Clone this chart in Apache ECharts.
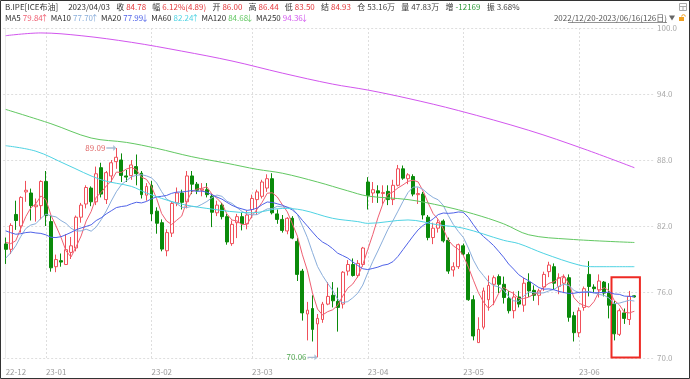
<!DOCTYPE html>
<html><head><meta charset="utf-8">
<script src="https://cdn.jsdelivr.net/npm/echarts@6/dist/echarts.min.js"></script>
<style>html,body{margin:0;padding:0;background:#fff}#c{width:690px;height:379px}</style>
</head><body><div id="c"></div><script>
// ---------- data ----------
const dates = [
'2022/12/20','2022/12/21','2022/12/22','2022/12/23','2022/12/27','2022/12/28','2022/12/29','2022/12/30',
'2023/01/03','2023/01/04','2023/01/05','2023/01/06','2023/01/09','2023/01/10','2023/01/11','2023/01/12','2023/01/13','2023/01/16','2023/01/17','2023/01/18','2023/01/19','2023/01/20','2023/01/23','2023/01/24','2023/01/25','2023/01/26','2023/01/27','2023/01/30','2023/01/31',
'2023/02/01','2023/02/02','2023/02/03','2023/02/06','2023/02/07','2023/02/08','2023/02/09','2023/02/10','2023/02/13','2023/02/14','2023/02/15','2023/02/16','2023/02/17','2023/02/20','2023/02/21','2023/02/22','2023/02/23','2023/02/24','2023/02/27','2023/02/28',
'2023/03/01','2023/03/02','2023/03/03','2023/03/06','2023/03/07','2023/03/08','2023/03/09','2023/03/10','2023/03/13','2023/03/14','2023/03/15','2023/03/16','2023/03/17','2023/03/20','2023/03/21','2023/03/22','2023/03/23','2023/03/24','2023/03/27','2023/03/28','2023/03/29','2023/03/30','2023/03/31',
'2023/04/03','2023/04/04','2023/04/05','2023/04/06','2023/04/10','2023/04/11','2023/04/12','2023/04/13','2023/04/14','2023/04/17','2023/04/18','2023/04/19','2023/04/20','2023/04/21','2023/04/24','2023/04/25','2023/04/26','2023/04/27','2023/04/28',
'2023/05/01','2023/05/02','2023/05/03','2023/05/04','2023/05/05','2023/05/08','2023/05/09','2023/05/10','2023/05/11','2023/05/12','2023/05/15','2023/05/16','2023/05/17','2023/05/18','2023/05/19','2023/05/22','2023/05/23','2023/05/24','2023/05/25','2023/05/26','2023/05/29','2023/05/30','2023/05/31',
'2023/06/01','2023/06/02','2023/06/05','2023/06/06','2023/06/07','2023/06/08','2023/06/09','2023/06/12','2023/06/13','2023/06/14','2023/06/15','2023/06/16'];

const openV = [
80.37,79.88,83.05,82.0,85.1,85.0,83.75,83.85,
86.05,82.4,78.3,78.85,78.5,79.6,80.0,82.8,84.0,85.45,84.2,87.3,84.4,86.55,87.85,88.0,86.55,86.58,87.4,86.8,84.8,
85.7,83.35,82.3,79.75,81.35,84.1,85.0,84.2,86.55,85.8,85.25,85.3,84.7,83.2,83.9,82.85,80.4,82.3,82.85,82.2,
83.5,84.4,84.7,85.45,86.3,83.1,82.6,81.55,82.7,80.6,77.9,74.0,74.5,73.1,73.5,74.9,75.7,75.15,74.9,77.9,78.5,77.5,78.5,
86.0,85.0,85.2,84.95,85.15,84.4,85.7,87.2,86.3,86.5,84.85,84.9,82.8,80.95,81.8,82.45,80.7,78.0,78.3,
80.2,79.4,75.3,71.4,72.8,75.3,76.7,77.4,76.7,75.4,74.3,75.55,74.8,76.9,76.15,75.7,76.45,77.85,78.3,76.5,76.8,77.3,73.85,
72.3,74.6,77.6,76.45,76.2,76.9,75.9,74.9,72.15,74.1,73.5,75.65];

const closeV = [
79.88,82.05,82.5,84.6,85.25,83.85,83.9,86.05,
82.95,78.2,78.95,78.72,79.85,80.2,82.8,83.9,85.5,84.2,86.75,84.9,86.85,87.75,88.25,86.6,86.45,87.55,86.75,84.85,85.6,
83.1,82.25,79.9,81.4,84.05,85.0,84.15,86.55,85.8,85.25,85.35,84.85,83.25,83.9,82.85,80.55,82.15,82.85,82.2,83.0,
84.5,85.1,86.0,86.3,83.2,82.6,81.6,82.7,80.9,77.6,74.1,74.35,72.6,73.6,74.9,75.6,75.2,74.6,77.8,78.5,77.5,78.6,80.0,
84.78,85.3,85.0,85.05,84.4,85.7,87.2,86.35,86.65,84.9,84.95,83.0,80.95,81.8,82.3,80.65,77.9,78.3,80.3,
79.45,75.3,72.0,72.6,76.1,76.6,77.3,76.7,75.5,74.3,75.55,74.9,76.8,76.1,75.7,76.1,77.6,78.45,76.8,77.3,77.3,73.7,72.3,
74.3,76.3,76.5,76.3,77.0,75.9,74.8,72.2,74.3,73.6,75.6,75.55];

const lowV = [
78.55,79.45,81.65,81.4,84.2,82.5,82.4,82.6,
82.0,77.85,77.8,78.3,78.45,79.0,79.7,82.3,83.6,83.8,83.9,84.6,84.0,86.0,87.2,86.0,86.0,86.2,85.7,84.5,84.3,
82.45,81.3,79.7,79.25,81.0,83.8,83.5,83.6,84.9,84.9,84.7,84.6,81.9,82.9,82.6,80.3,80.2,80.9,81.6,81.7,
82.7,83.0,84.5,85.1,83.05,82.2,81.4,81.25,80.8,77.0,73.4,71.6,71.5,70.06,73.2,74.8,74.6,72.4,74.5,77.5,77.4,77.3,78.3,
83.5,84.1,84.1,84.0,83.9,83.9,85.6,86.2,85.8,84.7,84.0,82.6,80.7,80.35,81.4,80.5,77.65,77.4,78.1,
79.3,75.2,71.6,71.4,72.6,74.3,74.8,75.9,74.95,74.05,73.6,74.6,74.2,75.55,75.2,74.8,76.1,77.35,76.2,75.8,75.9,73.3,71.5,
71.9,74.3,75.6,75.9,75.5,75.6,73.6,71.6,72.0,73.1,73.0,75.5];

const highV = [
80.95,82.25,84.3,84.7,86.1,85.4,84.5,86.15,
87.0,82.95,79.4,79.5,81.25,81.0,82.95,84.1,85.7,85.6,87.4,87.75,87.0,88.0,89.09,88.6,87.1,88.0,88.5,87.0,85.9,
86.1,83.7,82.6,81.7,84.25,85.5,85.3,87.0,87.0,86.0,85.9,85.9,84.9,84.3,84.1,83.1,82.5,83.1,83.2,83.4,
84.85,85.3,86.2,86.7,86.8,83.5,83.0,82.8,82.9,80.9,78.1,75.1,75.7,74.0,75.1,76.9,76.9,76.4,77.9,78.9,79.05,78.9,80.1,
86.44,86.0,85.7,85.7,85.7,86.2,87.55,87.5,86.8,86.7,85.5,85.1,83.0,82.3,82.6,82.6,80.95,78.7,80.4,
80.4,79.6,75.7,73.7,76.4,77.5,77.5,77.6,77.4,76.1,76.05,76.1,77.3,77.7,76.6,76.3,77.85,78.75,78.6,77.7,77.6,77.6,74.2,
74.6,76.5,78.8,76.7,77.6,77.0,76.8,75.2,74.5,74.5,76.1,75.7];

// closes of the 19 sessions before the window (estimated), needed for MA5/10/20 at the left edge
const priorCloses = [85.41,85.34,83.63,83.19,83.03,85.43,86.88,85.57,82.68,79.35,77.17,76.15,76.10,77.99,80.68,82.70,81.21,79.04,79.80];

// long moving averages: [session index, value]
const ma60Pts  = [[0,89.3],[6,88.8],[12,87.6],[19,86.2],[25,85.6],[28,85.0],[34,84.1],[40,83.6],[49,83.2],[55,83.6],[59,83.45],[65,82.7],[70,82.4],[72,82.24],[80,82.55],[86,82.1],[91,81.8],[99,80.7],[102,80.4],[107,79.5],[114,78.45],[117,78.3],[125,78.3]];
const ma120Pts = [[0,92.6],[9,91.3],[17,90.0],[24,89.6],[30,89.06],[37,88.3],[44,87.7],[50,87.15],[55,86.8],[62,86.0],[68,85.2],[72,84.72],[80,84.4],[87,83.8],[93,83.1],[99,82.2],[104,81.2],[112,80.8],[125,80.5]];
const ma250Pts = [[0,99.3],[7,99.55],[15,99.3],[25,98.7],[35,97.9],[45,97.0],[55,95.9],[65,94.9],[72,94.36],[80,93.6],[90,92.5],[104,90.7],[115,89.0],[125,87.3]];

const yTicks = [70, 76, 82, 88, 94, 100];

const quote = {name:'B.IPE[ICE布油]', date:'2023/04/03', close:'84.78', chg:'6.12%(4.89)', open:'86.00', high:'86.44', low:'83.50', settle:'84.93', oi:'53.16万', vol:'47.83万', oiChg:'-12169', amp:'3.68%'};
const maNames = ['MA5','MA10','MA20','MA60','MA120','MA250'];
const maHeader = ['79.84↑','77.70↑','77.99↓','82.24↑','84.68↓','94.36↓'];

// ---------- styling ----------
const F = "'Noto Sans CJK SC','Noto Sans',sans-serif";
const maColors = ['#ef5f72','#8aaedb','#4f62e8','#4fd3e3','#62c862','#d256ee'];
const UP = '#f0505a', DOWN = '#0a8a0a';

const allClose = priorCloses.concat(closeV);
function movingAvg(n) {
  return closeV.map((c, i) => {
    const end = priorCloses.length + i;
    let s = 0;
    for (let k = end - n + 1; k <= end; k++) s += allClose[k];
    return [i, +(s / n).toFixed(3)];
  });
}

const monthStarts = [];
dates.forEach((d, i) => { if (i === 0 || d.slice(0, 7) !== dates[i - 1].slice(0, 7)) monthStarts.push(i); });
const monthLabel = i => dates[i].slice(2, 4) + '-' + dates[i].slice(5, 7);

let iMax = 0, iMin = 0;
highV.forEach((v, i) => { if (v > highV[iMax]) iMax = i; });
lowV.forEach((v, i) => { if (v < lowV[iMin]) iMin = i; });

const kData = dates.map((d, i) => [i, openV[i], closeV[i], lowV[i], highV[i]]);

function lineSeries(name, data, color, smooth) {
  return {name, type:'line', data, symbol:'none', showSymbol:false, smooth: smooth ? 0.35 : false,
    lineStyle:{width:1, color}, itemStyle:{color}, silent:true, z:3};
}

const chart = echarts.init(document.getElementById('c'), null, {renderer:'canvas'});

const line1 = `{n|${quote.name}}{d|${quote.date}}{l|收}{r|${quote.close}}{l|幅}{r|${quote.chg}}{l|开}{r|${quote.open}}{l|高}{r|${quote.high}}{l|低}{r|${quote.low}}{l|结}{r|${quote.settle}}{l|仓}{k|${quote.oi}}{l|量}{k|${quote.vol}}{l|增}{g|${quote.oiChg}}{l|振}{k|${quote.amp}}`;
const line2 = maNames.map((n, i) => {
  const t = maHeader[i];
  return `{m|${n}}{v${i}|${t.slice(0, -1)}}{a${i}|${t.slice(-1)}}`;
}).join('');
const rich2 = {m:{fill:'#333', fontSize:8, fontFamily:F, padding:[0,2,0,4.5]}};
maColors.forEach((c, i) => {
  rich2['v' + i] = {fill:c, fontSize:8, fontFamily:F};
  rich2['a' + i] = {fill:c, fontSize:8, fontFamily:F, width:3.5, align:'center'};
});

chart.setOption({
  animation:false,
  backgroundColor:'#fff',
  grid:{left:3.15, right:36, top:28, bottom:21, outerBoundsMode:'none', containLabel:false},
  xAxis:{
    type:'value', min:-0.5, max:128.9,
    axisLine:{show:false},
    axisTick:{show:false, customValues: monthStarts.filter(i => i > 0)},
    splitLine:{show:true, lineStyle:{color:'#dedede', type:[2,2], width:1}},
    axisLabel:{customValues: monthStarts, formatter: v => monthLabel(v), align:'left', color:'#9a9a9a', fontSize:8, fontFamily:F, margin:10}
  },
  yAxis:{
    type:'value', position:'right', min:70, max:100,
    axisLine:{show:true, lineStyle:{color:'#ececec'}},
    axisTick:{show:false, customValues: yTicks},
    splitLine:{show:true, lineStyle:{color:'#dedede', type:[2,2], width:1}},
    axisLabel:{customValues: yTicks, formatter: v => v.toFixed(1), color:'#a8a8a8', fontSize:8, fontFamily:F, margin:3}
  },
  series:[
    {
      type:'candlestick', name:'K', data:kData, barWidth:3.4, z:2,
      itemStyle:{color:'#ffffff', color0:DOWN, borderColor:UP, borderColor0:DOWN, borderWidth:1, borderColorDoji:UP},
      markPoint:{
        symbol:'path://M0,3.3 L9,3.3 L9,1 L13,4 L9,7 L9,4.7 L0,4.7 Z',
        symbolSize:[10,6], symbolKeepAspect:false, symbolOffset:[-5,0],
        itemStyle:{color:'#a9bdd4'}, silent:true,
        label:{show:true, position:'left', distance:1, fontSize:8, fontFamily:F, formatter: p => Number(p.value).toFixed(2)},
        data:[
          {coord:[iMax, highV[iMax]], value:highV[iMax], label:{color:'#e06a6a'}},
          {coord:[iMin, lowV[iMin]], value:lowV[iMin], label:{color:'#52a852'}}
        ]
      },
      markArea:{
        silent:true,
        itemStyle:{color:'rgba(0,0,0,0)', borderColor:'#ee2a24', borderWidth:2},
        data:[[{coord:[dates.length - 5.55, 77.35]}, {coord:[dates.length + 0.1, 70.05]}]]
      }
    },
    lineSeries('MA5', movingAvg(5), maColors[0]),
    lineSeries('MA10', movingAvg(10), maColors[1]),
    lineSeries('MA20', movingAvg(20), maColors[2]),
    lineSeries('MA60', ma60Pts, maColors[3], true),
    lineSeries('MA120', ma120Pts, maColors[4], true),
    lineSeries('MA250', ma250Pts, maColors[5], true)
  ],
  graphic:[
    {type:'text', x:5, y:7, style:{text:line1, verticalAlign:'middle', fontSize:8, fontFamily:F, fill:'#333',
      rich:{
        n:{fill:'#333', fontSize:8, fontFamily:F},
        d:{fill:'#333', fontSize:8, fontFamily:F, padding:[0,0,0,10]},
        l:{fill:'#333', fontSize:8, fontFamily:F, padding:[0,2,0,6.2]},
        r:{fill:'#e4393c', fontSize:8, fontFamily:F},
        k:{fill:'#444', fontSize:8, fontFamily:F},
        g:{fill:'#2e9b3a', fontSize:8, fontFamily:F}
      }}},
    {type:'text', x:0.5, y:17.5, style:{text:line2, verticalAlign:'middle', fontSize:8, fontFamily:F, rich:rich2}},
    {type:'text', x:667, y:18, style:{text: dates[0] + '-' + dates[dates.length - 1] + '(' + dates.length + '日)', align:'right', verticalAlign:'middle', fontSize:8, fontFamily:F, fill:'#555'}},
    {type:'line', shape:{x1:568, y1:22.5, x2:667, y2:22.5}, style:{stroke:'#666', lineWidth:0.7}},
    {type:'polygon', shape:{points:[[669,15.5],[675,15.5],[672,20.5]]}, style:{fill:'#666'}},
    {type:'rect', shape:{x:679, y:17, width:5, height:4}, style:{fill:'#f0a020'}},
    {type:'arc', shape:{cx:683.5, cy:16.5, r:1.8, startAngle:Math.PI, endAngle:2*Math.PI}, style:{stroke:'#f0a020', fill:'none', lineWidth:1}},
    {type:'rect', shape:{x:679.5, y:3.5, width:7, height:7}, style:{fill:'none', stroke:'#aaa', lineWidth:1}},
    {type:'line', shape:{x1:679.5, y1:6.5, x2:686.5, y2:6.5}, style:{stroke:'#aaa', lineWidth:1}},
    {type:'line', shape:{x1:683, y1:6.5, x2:683, y2:10.5}, style:{stroke:'#aaa', lineWidth:1}},
    {type:'rect', shape:{x:0.5, y:0.5, width:689, height:378}, style:{fill:'none', stroke:'#333', lineWidth:1}, z:100}
  ]
});
</script></body></html>
